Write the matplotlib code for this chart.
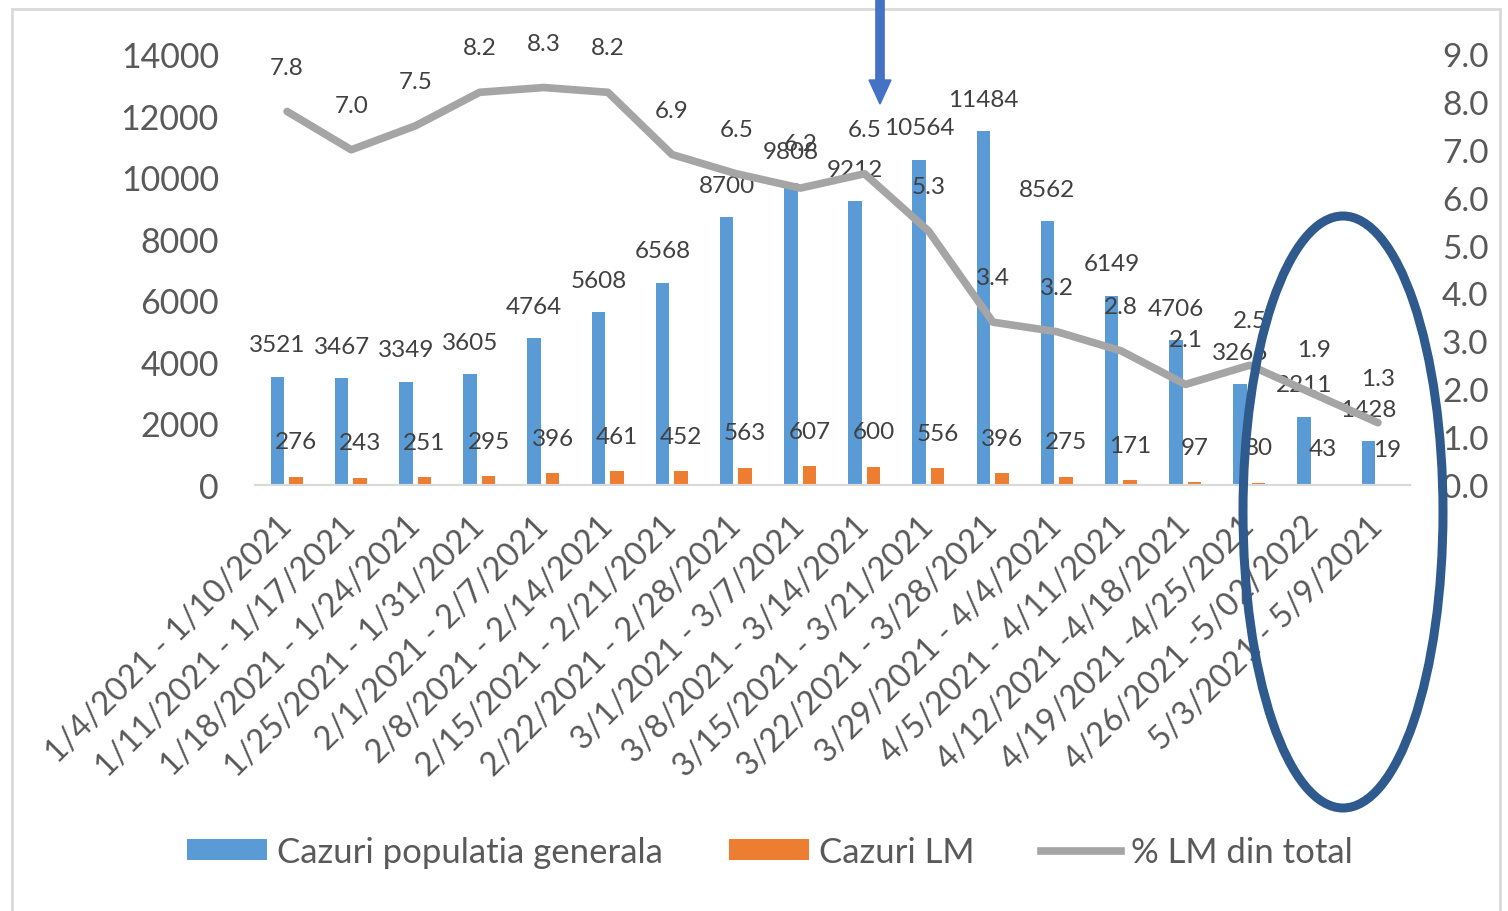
import matplotlib
matplotlib.use("Agg")
import matplotlib.pyplot as plt
from matplotlib.patches import Ellipse, Rectangle, FancyArrow
from matplotlib.lines import Line2D
from matplotlib.patches import Patch
import numpy as np

plt.rcParams['font.family'] = ['Lato', 'DejaVu Sans']

categories = [
    "1/4/2021 - 1/10/2021", "1/11/2021 - 1/17/2021", "1/18/2021 - 1/24/2021",
    "1/25/2021 - 1/31/2021", "2/1/2021 - 2/7/2021", "2/8/2021 - 2/14/2021",
    "2/15/2021 - 2/21/2021", "2/22/2021 - 2/28/2021", "3/1/2021 - 3/7/2021",
    "3/8/2021 - 3/14/2021", "3/15/2021 - 3/21/2021", "3/22/2021 - 3/28/2021",
    "3/29/2021 - 4/4/2021", "4/5/2021 - 4/11/2021", "4/12/2021 -4/18/2021",
    "4/19/2021 -4/25/2021", "4/26/2021 -5/02/2022", "5/3/2021 - 5/9/2021",
]
cazuri_generala = [3521, 3467, 3349, 3605, 4764, 5608, 6568, 8700, 9808,
                   9212, 10564, 11484, 8562, 6149, 4706, 3266, 2211, 1428]
cazuri_lm = [276, 243, 251, 295, 396, 461, 452, 563, 607,
             600, 556, 396, 275, 171, 97, 80, 43, 19]
pct_lm = [7.8, 7.0, 7.5, 8.2, 8.3, 8.2, 6.9, 6.5, 6.2,
          6.5, 5.3, 3.4, 3.2, 2.8, 2.1, 2.5, 1.9, 1.3]
left_ticks = [0, 2000, 4000, 6000, 8000, 10000, 12000, 14000]
right_ticks = [0.0, 1.0, 2.0, 3.0, 4.0, 5.0, 6.0, 7.0, 8.0, 9.0]

BLUE = '#5B9BD5'
ORANGE = '#ED7D31'
GREY = '#A5A5A5'
TXT = '#595959'
LBL = '#404040'

W, H = 1508, 912
fig = plt.figure(figsize=(W / 100, H / 100), dpi=100)
fig.patch.set_facecolor('white')

ax = fig.add_axes([255 / W, 1 - 486 / H, (1410 - 255) / W, (486 - 55) / H])
ax2 = ax.twinx()

x = np.arange(len(categories))
bw = 0.21
ax.bar(x - 0.15, cazuri_generala, width=bw, color=BLUE, zorder=2)
ax.bar(x + 0.14, cazuri_lm, width=bw, color=ORANGE, zorder=2)
ax.set_xlim(-0.5, len(categories) - 0.5)
ax.set_ylim(0, 14000)
ax.set_yticks(left_ticks)
ax.set_yticklabels([str(v) for v in left_ticks])

ax2.plot(x, pct_lm, color=GREY, lw=5.5, solid_capstyle='round', zorder=3)
ax2.set_ylim(0, 9.0)
ax2.set_yticks(right_ticks)
ax2.set_yticklabels([f"{v:.1f}" for v in right_ticks])

for a in (ax, ax2):
    for s in ('top', 'left', 'right'):
        a.spines[s].set_visible(False)
    a.spines['bottom'].set_color('#D9D9D9')
    a.spines['bottom'].set_linewidth(1.5)
    a.tick_params(length=0)

ax.tick_params(axis='y', labelsize=24.5, labelcolor=TXT, pad=26)
ax2.tick_params(axis='y', labelsize=24, labelcolor=TXT, pad=23)
ax.set_xticks(x)
ax.set_xticklabels(categories, rotation=45, ha='right', va='center',
                   rotation_mode='anchor', fontsize=23.5, color=TXT)
ax.tick_params(axis='x', pad=26)

for xi, v in zip(x, cazuri_generala):
    ax.annotate(str(v), (xi - 0.15, v), xytext=(0, 23), textcoords='offset points',
                ha='center', va='center', fontsize=17.5, color=LBL, zorder=5)
for xi, v in zip(x, cazuri_lm):
    ax.annotate(str(v), (xi + 0.14, v), xytext=(0, 25), textcoords='offset points',
                ha='center', va='center', fontsize=17.5, color=LBL, zorder=5)
for xi, v in zip(x, pct_lm):
    ax2.annotate(f"{v:.1f}", (xi, v), xytext=(0, 32), textcoords='offset points',
                 ha='center', va='center', fontsize=17.5, color=LBL, zorder=5)

# legend
handles = [Patch(facecolor=BLUE), Patch(facecolor=ORANGE),
           Line2D([0], [0], color=GREY, lw=5.5)]
labels = ["Cazuri populatia generala", "Cazuri LM", "% LM din total"]
fig.legend(handles, labels, loc='center', bbox_to_anchor=(770 / W, 1 - 853 / H),
           ncol=3, frameon=False, fontsize=25, labelcolor=TXT,
           handlelength=2.3, handleheight=0.55, handletextpad=0.3, columnspacing=1.9)

# frame
fig.add_artist(Rectangle((12 / W, -0.01), (1500 - 12) / W, (H - 10) / H + 0.01,
                         transform=fig.transFigure, fill=False,
                         edgecolor='#D9D9D9', lw=2))

# annotations: arrow and ellipse
fig.add_artist(FancyArrow(880 / W, 1.0, 0, -(105 / H), width=5 / H,
                          head_width=22 / W, head_length=24 / H,
                          length_includes_head=True, transform=fig.transFigure,
                          color='#4472C4', zorder=10))
fig.add_artist(Ellipse((1343 / W, 1 - 513 / H), 200 / W, 592 / H,
                       transform=fig.transFigure, fill=False,
                       edgecolor='#2F5A8E', lw=6.5, zorder=10))

fig.savefig("out.png", dpi=100)
